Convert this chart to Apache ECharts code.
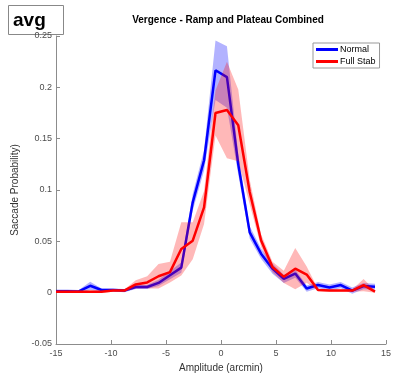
<!DOCTYPE html>
<html><head><meta charset="utf-8">
<script src="https://cdn.jsdelivr.net/npm/echarts@6/dist/echarts.min.js"></script>
<style>html,body{margin:0;padding:0;background:#fff}#c{width:394px;height:378px}</style>
</head><body><div id="c"></div>
<script>
// Bin centres (arcmin)
const amplitudes = [-15, -13.96, -12.93, -11.89, -10.86, -9.82, -8.79, -7.75, -6.71, -5.68, -4.64, -3.61, -2.57, -1.54, -0.5, 0.54, 1.57, 2.61, 3.64, 4.68, 5.71, 6.75, 7.79, 8.82, 9.86, 10.89, 11.93, 12.96, 14];
const normal = [0.0015, 0.0015, 0.0012, 0.0067, 0.0026, 0.0026, 0.002, 0.0055, 0.0055, 0.0095, 0.017, 0.0244, 0.088, 0.129, 0.2166, 0.21, 0.125, 0.0587, 0.038, 0.0234, 0.0135, 0.0186, 0.004, 0.0074, 0.005, 0.0074, 0.002, 0.0064, 0.0058];
const normalErr = [0.0015, 0.0015, 0.0015, 0.004, 0.0015, 0.0015, 0.0015, 0.002, 0.002, 0.003, 0.004, 0.005, 0.008, 0.01, 0.029, 0.03, 0.01, 0.006, 0.005, 0.005, 0.004, 0.004, 0.003, 0.003, 0.003, 0.003, 0.003, 0.003, 0.003];
const fullStab = [0.001, 0.001, 0.001, 0.001, 0.001, 0.002, 0.002, 0.008, 0.010, 0.016, 0.020, 0.0426, 0.0506, 0.083, 0.175, 0.178, 0.163, 0.098, 0.051, 0.025, 0.0154, 0.0234, 0.0176, 0.0026, 0.002, 0.002, 0.002, 0.0074, 0.001];
const fullStabErr = [0.001, 0.001, 0.001, 0.001, 0.001, 0.001, 0.001, 0.004, 0.006, 0.012, 0.01, 0.026, 0.018, 0.016, 0.022, 0.047, 0.035, 0.012, 0.006, 0.005, 0.006, 0.02, 0.008, 0.001, 0.001, 0.001, 0.001, 0.006, 0.001];
const seriesNames = ['Normal', 'Full Stab'];

function band(center, err, color, z) {
  return {
    type: 'custom', silent: true, z: z, clip: true,
    data: [[0, 0]],
    renderItem: function (params, api) {
      const pts = [];
      for (let i = 0; i < amplitudes.length; i++) pts.push(api.coord([amplitudes[i], center[i] + err[i]]));
      for (let i = amplitudes.length - 1; i >= 0; i--) pts.push(api.coord([amplitudes[i], Math.max(center[i] - err[i], -0.05)]));
      return { type: 'polygon', shape: { points: pts }, style: { fill: color } };
    }
  };
}
function line(name, vals, color, z) {
  return {
    name: name, type: 'line', z: z, showSymbol: false, symbol: 'none',
    data: amplitudes.map((x, i) => [x, vals[i]]),
    lineStyle: { color: color, width: 2.5 }, itemStyle: { color: color }
  };
}

const chart = echarts.init(document.getElementById('c'));
const axisCol = '#8c8c8c';
const labCol = '#4d4d4d';
chart.setOption({
  animation: false,
  title: {
    text: 'Vergence - Ramp and Plateau Combined', left: 223, top: 10, textAlign: 'center',
    textStyle: { fontFamily: 'Liberation Sans, Arial', fontSize: 10, fontWeight: 'bold', color: '#000' }
  },
  grid: { left: 56, right: 4, top: 36, bottom: 30, containLabel: false },
  legend: {
    data: seriesNames, orient: 'vertical', left: 313, top: 43, icon: 'rect',
    itemWidth: 22, itemHeight: 3, itemGap: 3, padding: [2, 4, 2, 3],
    backgroundColor: '#fff', borderColor: '#999', borderWidth: 1,
    textStyle: { fontFamily: 'Liberation Sans, Arial', fontSize: 9, color: '#000', padding: [0, 0, 0, -3] }
  },
  xAxis: {
    type: 'value', min: -15, max: 15, interval: 5,
    name: 'Amplitude (arcmin)', nameLocation: 'middle', nameGap: 19,
    nameTextStyle: { fontFamily: 'Liberation Sans, Arial', fontSize: 10, color: '#333' },
    axisLine: { onZero: false, lineStyle: { color: axisCol } },
    axisTick: { inside: true, length: 4, lineStyle: { color: axisCol } },
    axisLabel: { fontFamily: 'Liberation Sans, Arial', fontSize: 9, color: labCol, margin: 5 },
    splitLine: { show: false }
  },
  yAxis: {
    type: 'value', min: -0.05, max: 0.25, interval: 0.05,
    name: 'Saccade Probability)', nameLocation: 'middle', nameGap: 29,
    nameTextStyle: { fontFamily: 'Liberation Sans, Arial', fontSize: 10, color: '#333' },
    axisLine: { show: true, onZero: false, lineStyle: { color: axisCol } },
    axisTick: { show: true, inside: true, length: 4, lineStyle: { color: axisCol } },
    axisLabel: { fontFamily: 'Liberation Sans, Arial', fontSize: 9, color: labCol, margin: 4 },
    splitLine: { show: false }
  },
  graphic: [
    { type: 'rect', left: 8, top: 5, z: 0, shape: { width: 55, height: 29 }, style: { fill: '#fff', stroke: '#888', lineWidth: 1 } },
    { type: 'text', left: 13, top: 11, z: 1, style: { text: 'avg', font: 'bold 19px Liberation Sans, Arial', fill: '#000' } }
  ],
  series: [
    band(normal, normalErr, 'rgba(0,0,255,0.3)', 1),
    line('Normal', normal, '#0000ff', 2),
    band(fullStab, fullStabErr, 'rgba(255,0,0,0.28)', 3),
    line('Full Stab', fullStab, '#ff0000', 4)
  ]
});
</script></body></html>
